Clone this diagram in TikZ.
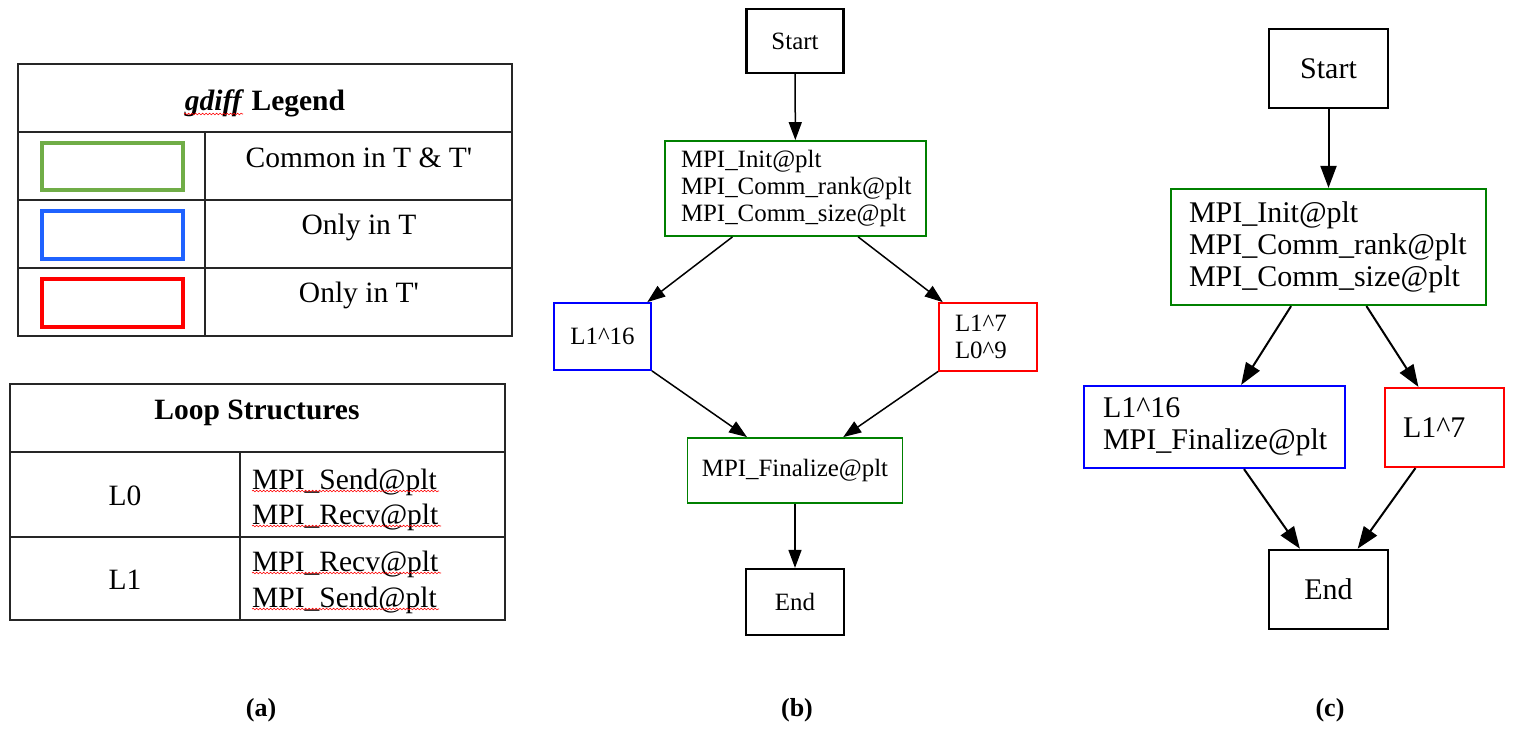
\documentclass[tikz,border=0pt]{standalone}
\usepackage{fontspec}
\setmainfont{Liberation Serif}
\usetikzlibrary{arrows.meta,decorations.pathmorphing}
\definecolor{gvgreen}{RGB}{0,128,0}
\definecolor{gvblue}{RGB}{0,0,255}
\definecolor{gvred}{RGB}{255,0,0}
\definecolor{lgreen}{RGB}{112,173,71}
\definecolor{lblue}{RGB}{31,98,255}
\definecolor{lred}{RGB}{255,0,0}
\begin{document}
\begin{tikzpicture}[x=1pt,y=-1pt,
  tabline/.style={line width=1.4pt, draw=black!85},
  swatch/.style={line width=4pt},
  celltext/.style={font=\fontsize{29.5}{34}\selectfont, anchor=base, inner sep=0},
  cellleft/.style={celltext, anchor=base west},
  spell/.style={draw=red, line width=0.6pt, decorate, decoration={snake, amplitude=0.8pt, segment length=3.5pt}},
  bbox/.style={draw, rectangle, inner sep=0, font=\fontsize{24.9}{27}\selectfont, line width=1.8pt},
  cbox/.style={draw, rectangle, inner sep=0, font=\fontsize{30}{32}\selectfont, line width=2.2pt},
  bedge/.style={line width=1.5pt, -{Triangle[length=18pt,width=13pt]}},
  cedge/.style={line width=2pt, -{Triangle[length=22pt,width=16pt]}},
  sublabel/.style={font=\fontsize{26}{30}\selectfont\bfseries, inner sep=0, anchor=base}
]
\useasboundingbox[fill=white] (0,0) rectangle (1516,734);

% ---------------- (a) legend table ----------------
\draw[tabline] (18,64) rectangle (512,336);
\draw[tabline] (18,132) -- (512,132) (18,200) -- (512,200) (18,268) -- (512,268) (205,132) -- (205,336);
\node[celltext] (lgtitle) at (265,110) {\textbf{\textit{gdiff} Legend}};
\draw[spell] (184,114) -- (243,114);
\draw[swatch, draw=lgreen] (42,143) rectangle (183,190);
\draw[swatch, draw=lblue] (42,211) rectangle (183,259);
\draw[swatch, draw=lred] (42,279) rectangle (183,327);
\node[celltext] (lgc) at (359,167) {Common in T \& T\textquotesingle};
\node[celltext] (lgt) at (359,234) {Only in T};
\node[celltext] (lgtp) at (359,302) {Only in T\textquotesingle};

% ---------------- (a) loop structures table ----------------
\draw[tabline] (10,384) rectangle (505,620);
\draw[tabline] (10,452) -- (505,452) (10,537) -- (505,537) (240,452) -- (240,620);
\node[celltext] (lstitle) at (257,419) {\textbf{Loop Structures}};
\node[celltext] (l0) at (125,505) {L0};
\node[celltext] (l1) at (125,589) {L1};
\node[cellleft] (l0a) at (252,489) {MPI\_Send@plt};
\node[cellleft] (l0b) at (252,524) {MPI\_Recv@plt};
\node[cellleft] (l1a) at (252,571) {MPI\_Recv@plt};
\node[cellleft] (l1b) at (252,607) {MPI\_Send@plt};
\draw[spell] (252,491) -- (439,491);
\draw[spell] (252,526) -- (441,526);
\draw[spell] (252,573) -- (441,573);
\draw[spell] (252,609) -- (439,609);

% ---------------- (b) ----------------
\node[bbox, minimum width=97, minimum height=64, line width=2.2pt] (bstart) at (795,41) {Start};
\node[bbox, draw=gvgreen, minimum height=95, inner xsep=16, text width=229, align=left] (bgreen) at (795.5,188.5)
  {MPI\_Init@plt\\MPI\_Comm\_rank@plt\\MPI\_Comm\_size@plt};
\node[bbox, draw=gvblue, minimum width=97, minimum height=67] (bblue) at (602.5,336.5) {L1\textasciicircum 16};
\node[bbox, draw=gvred, minimum height=68, inner xsep=16, text width=66, align=left] (bred) at (988,337)
  {L1\textasciicircum 7\\L0\textasciicircum 9};
\node[bbox, draw=gvgreen, minimum width=215, minimum height=65] (bfin) at (795,470.5) {MPI\_Finalize@plt};
\node[bbox, minimum width=98, minimum height=66, line width=2.2pt] (bend) at (795,602) {End};
\draw[bedge] (bstart) -- (bgreen);
\draw[bedge] (bgreen) -- (bblue);
\draw[bedge] (bgreen) -- (bred);
\draw[bedge] (bblue) -- (bfin);
\draw[bedge] (bred) -- (bfin);
\draw[bedge] (bfin) -- (bend);

% ---------------- (c) ----------------
\node[cbox, minimum width=119, minimum height=79, line width=2.6pt] (cstart) at (1328.5,68.5) {Start};
\node[cbox, draw=gvgreen, minimum height=116, inner xsep=18, text width=279, align=left] (cgreen) at (1328.5,247)
  {MPI\_Init@plt\\MPI\_Comm\_rank@plt\\MPI\_Comm\_size@plt};
\node[cbox, draw=gvblue, minimum height=82, inner xsep=19, text width=223, align=left] (cblue) at (1214.5,427)
  {L1\textasciicircum 16\\MPI\_Finalize@plt};
\node[cbox, draw=gvred, minimum height=79, inner xsep=18, text width=83, align=left] (cred) at (1444.5,427.5)
  {L1\textasciicircum 7};
\node[cbox, minimum width=119, minimum height=79, line width=2.6pt] (cend) at (1328.5,589.5) {End};
\draw[cedge] (cstart) -- (cgreen);
\draw[cedge] (cgreen) -- (cblue);
\draw[cedge] (cgreen) -- (cred);
\draw[cedge] (cblue) -- (cend);
\draw[cedge] (cred) -- (cend);

% ---------------- sub-figure labels ----------------
\node[sublabel] (la) at (261,716) {(a)};
\node[sublabel] (lb) at (797,716) {(b)};
\node[sublabel] (lc) at (1330,716) {(c)};
\end{tikzpicture}
\end{document}
